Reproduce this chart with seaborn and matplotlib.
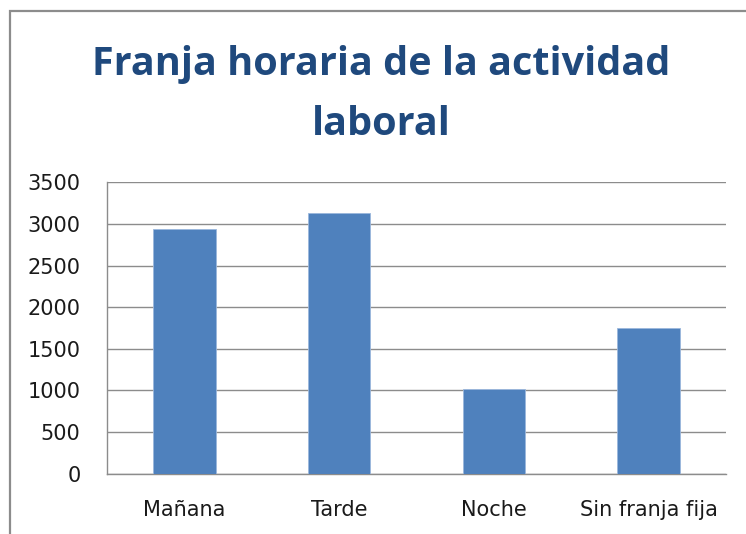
import matplotlib
matplotlib.use("Agg")
import matplotlib.pyplot as plt
import seaborn as sns
import pandas as pd
from matplotlib.patches import Rectangle

categories = ["Mañana", "Tarde", "Noche", "Sin franja fija"]
values = [2935, 3135, 1012, 1750]
yticks = [0, 500, 1000, 1500, 2000, 2500, 3000, 3500]
title_line1 = "Franja horaria de la actividad"
title_line2 = "laboral"

sns.set_theme(style="white")
plt.rcParams['font.family'] = ['DejaVu Sans']

df = pd.DataFrame({"franja": categories, "valor": values})

W, H = 746, 534
fig = plt.figure(figsize=(W/100, H/100), dpi=100)
ax = fig.add_axes([107/W, 1-473.5/H, (726-107)/W, (473.5-182.3)/H])

sns.barplot(data=df, x="franja", y="valor", color="#4F81BD", width=0.405,
            saturation=1, edgecolor="#9bb7dc", linewidth=0.6, ax=ax, zorder=3)

ax.set_ylim(0, 3500)
ax.set_yticks(yticks)
ax.set_xlim(-0.5, len(categories)-0.5)
ax.set_xlabel("")
ax.set_ylabel("")
ax.yaxis.grid(True, color="#8c8c8c", linewidth=1.0, zorder=0)
ax.xaxis.grid(False)
ax.set_axisbelow(True)
for s in ["top", "right"]:
    ax.spines[s].set_visible(False)
for s in ["left", "bottom"]:
    ax.spines[s].set_color("#8c8c8c")
    ax.spines[s].set_linewidth(1.0)
ax.tick_params(axis="y", length=0, pad=19, labelsize=15, labelcolor="#1a1a1a")
ax.tick_params(axis="x", length=0, pad=19, labelsize=15, labelcolor="#1a1a1a")

fig.text(381/W, 1-75/H, title_line1, ha="center", va="baseline",
         fontsize=28.5, fontweight="bold", color="#1F497D", family="Open Sans")
fig.text(381/W, 1-135/H, title_line2, ha="center", va="baseline",
         fontsize=28.5, fontweight="bold", color="#1F497D", family="Open Sans")

fig.patches.append(Rectangle((10/W, -0.05), 1.1, 1-11/H+0.05, transform=fig.transFigure,
                             fill=False, edgecolor="#8c8c8c", linewidth=1.6))

fig.savefig("out.png", dpi=100)
